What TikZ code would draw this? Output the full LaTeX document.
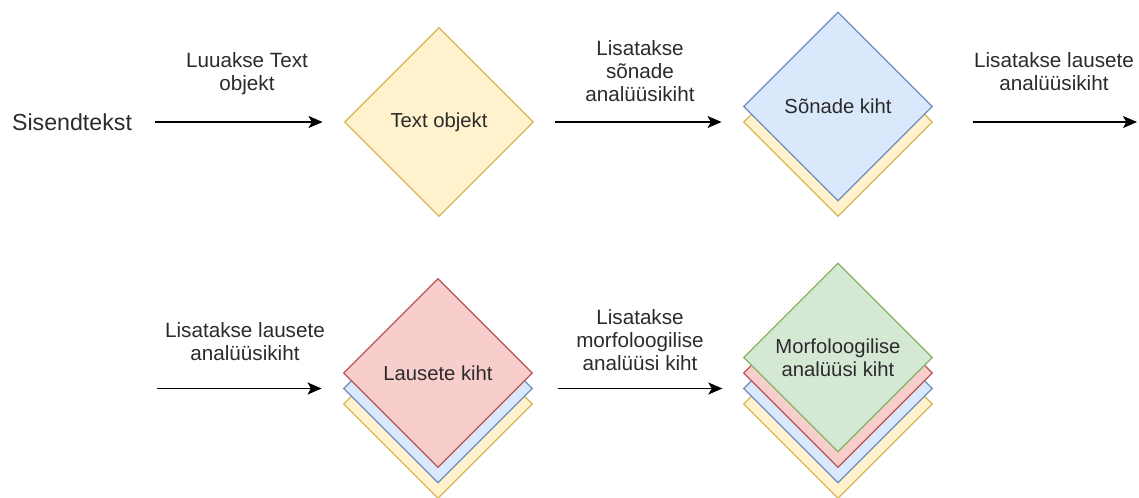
\documentclass[tikz,border=0pt]{standalone}
\usepackage{fontspec}
\setmainfont{Liberation Sans}
\usetikzlibrary{shapes.geometric,arrows.meta}
\definecolor{yfill}{HTML}{FFF2CC}
\definecolor{ydraw}{HTML}{D6B656}
\definecolor{bfill}{HTML}{DAE8FC}
\definecolor{bdraw}{HTML}{6C8EBF}
\definecolor{rfill}{HTML}{F8CECC}
\definecolor{rdraw}{HTML}{B85450}
\definecolor{gfill}{HTML}{D5E8D4}
\definecolor{gdraw}{HTML}{82B366}
\definecolor{txt}{HTML}{2B2B2B}
\tikzset{
  layer/.style={diamond, aspect=1, minimum width=141.75pt, minimum height=141.75pt,
    inner sep=0pt, line width=0.9pt, align=center, text=txt,
    font=\fontsize{15.2pt}{17.3pt}\selectfont},
  ylayer/.style={layer, fill=yfill, draw=ydraw},
  blayer/.style={layer, fill=bfill, draw=bdraw},
  rlayer/.style={layer, fill=rfill, draw=rdraw},
  glayer/.style={layer, fill=gfill, draw=gdraw},
  lbl/.style={align=center, text=txt, inner sep=0pt,
    font=\fontsize{15.5pt}{17.3pt}\selectfont},
  arr/.style={-{Stealth[length=10.5pt,width=9pt,inset=2.5pt]}, line width=1.2pt, draw=black}
}
\begin{document}
\begin{tikzpicture}[x=0.75pt,y=-0.75pt]
\useasboundingbox (0,0) rectangle (1139,497);

% start text
\node[lbl, font=\fontsize{17.4pt}{20pt}\selectfont] (sis) at (72,122) {Sisendtekst};

% diamond 1
\node[ylayer] (d1) at (439,122) {Text objekt};

% diamond 2
\node[ylayer] (d2y) at (838,122) {};
\node[blayer] (d2) at (838,106.5) {Sõnade kiht};

% diamond 3
\node[ylayer] (d3y) at (438,404) {};
\node[blayer] (d3b) at (438,388.5) {};
\node[rlayer] (d3) at (438,373) {Lausete kiht};

% diamond 4
\node[ylayer] (d4y) at (838,404) {};
\node[blayer] (d4b) at (838,388.5) {};
\node[rlayer] (d4r) at (838,373) {};
\node[glayer] (d4) at (838,357.5) {Morfoloogilise\\analüüsi kiht};

% labels
\node[lbl] (l1) at (247,73.5) {Luuakse Text\\objekt};
\node[lbl] (l2) at (640,71.5) {Lisatakse\\sõnade\\analüüsikiht};
\node[lbl] (l3) at (1054,71.5) {Lisatakse lausete\\analüüsikiht};
\node[lbl] (l4) at (245,341.5) {Lisatakse lausete\\analüüsikiht};
\node[lbl] (l5) at (640,340) {Lisatakse\\morfoloogilise\\analüüsi kiht};

% connectors
\coordinate (e3) at (1137,122);
\coordinate (s4) at (157,388.5);
\draw[arr, shorten <=17pt, shorten >=16pt] (sis) -- (d1);
\draw[arr, shorten <=16pt, shorten >=16pt] (d1.east) -- (d2y.west);
\draw[arr, shorten <=29.6pt] (d2y.east) -- (e3);
\draw[arr, shorten >=16pt] (s4) -- (d3b.west);
\draw[arr, shorten <=18.4pt, shorten >=15.4pt] (d3b.east) -- (d4b.west);
\end{tikzpicture}
\end{document}
